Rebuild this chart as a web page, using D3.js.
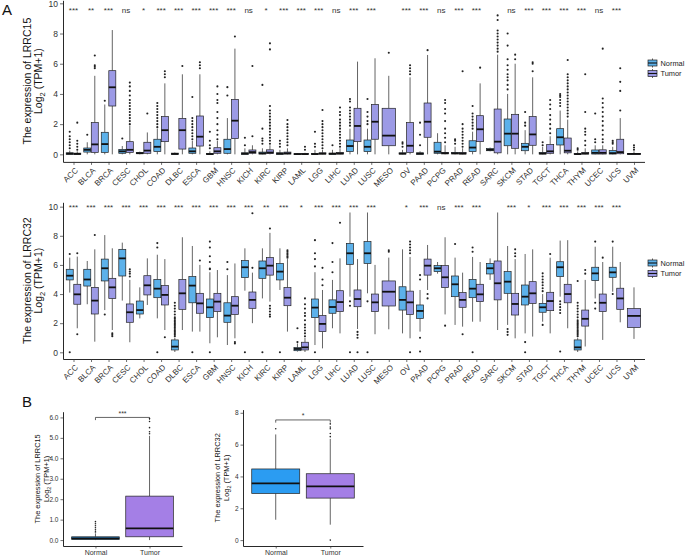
<!DOCTYPE html>
<html>
<head>
<meta charset="utf-8">
<script src="https://cdn.jsdelivr.net/npm/d3@7"></script>
<style>
  body { margin: 0; background: #fff; }
  svg { display: block; font-family: "Liberation Sans", Arial, sans-serif; }
</style>
</head>
<body>
<svg id="fig" width="685" height="557"></svg>
<script>
// ---------- data (box stats are [whiskerLow, q1, median, q3, whiskerHigh]) ----------
const cats = ['ACC','BLCA','BRCA','CESC','CHOL','COAD','DLBC','ESCA','GBM','HNSC','KICH','KIRC','KIRP',
  'LAML','LGG','LIHC','LUAD','LUSC','MESO','OV','PAAD','PCPG','PRAD','READ','SARC','SKCM','STAD','TGCT',
  'THCA','THYM','UCEC','UCS','UVM'];

const sigLRRC15 = ['***','**','***','ns','*','***','***','***','***','***','ns','*','***','***','***','ns',
  '***','***','','***','***','ns','***','***','','ns','***','***','***','***','ns','***',''];
const sigLRRC32 = ['***','***','***','***','***','***','***','***','***','***','***','**','***','*','***','***',
  '***','***','','*','***','ns','***','***','','***','*','***','***','***','***','***',''];

const lrrc15Normal = [
  [0,0,0.05,0.1,0.25],[0,0.15,0.3,0.42,0.8],[0,0.13,0.68,1.46,3.3],[0,0.07,0.2,0.33,0.55],
  [0,0.04,0.08,0.13,0.18],[0,0.18,0.5,1.0,1.7],[0,0,0.03,0.08,0.12],[0,0.07,0.2,0.42,0.9],
  [0,0,0.02,0.05,0.2],[0,0.07,0.35,1.0,2.4],[0,0,0.05,0.1,0.4],[0,0.02,0.07,0.15,0.4],
  [0,0,0.05,0.1,0.3],[0,0,0.02,0.04,0.08],[0,0,0.02,0.05,0.3],[0,0,0.04,0.08,0.3],
  [0,0.18,0.55,0.95,1.7],[0,0.18,0.5,0.95,1.7],null,[0,0.02,0.05,0.1,0.3],
  [0,0,0.05,0.1,0.2],[0,0.07,0.18,0.8,1.4],[0,0.03,0.07,0.13,0.5],[0,0.18,0.45,0.9,1.5],
  [0.2,0.24,0.3,0.38,0.45],[0,0.57,1.37,2.34,4.0],[0,0.24,0.5,0.73,1.6],[0,0.02,0.06,0.12,0.5],
  [0,0.62,1.13,1.7,2.9],[0,0,0.02,0.05,0.2],[0,0.02,0.1,0.29,0.6],[0,0.02,0.08,0.25,0.5],null];
const lrrc15NormalOut = [
  [0.4,0.6,0.8,1.0,1.2,1.5],[1.3],[3.55],[1.05],[],[1.8,2.0,2.2,2.4,2.6,2.8,3.0,3.2,3.4],[],
  [1.0,1.2,1.4,1.6,1.8,2.0,2.2,2.4,3.8],[0.4,0.6,0.9,1.5],[3.9,4.45],[0.6,1.1],[0.7,0.9,1.05,1.7,4.6],
  [0.5,0.7,0.9],[],[0.5,0.7,1.5],[0.6],[1.9,2.1,2.3,2.5,2.7,2.9,3.1,3.5,3.66],[2.0,2.2,2.5,2.8,3.66],[],
  [0.5,0.7,0.8],[0.6,1.3,2.1],[],[0.7,0.9,1.0],[1.7,1.9,2.1,2.3,2.5,2.7,3.2],[],
  [4.3,4.6,4.9,5.1,5.3,5.6,5.9,6.3,7.2,8.0],[1.9,2.1,2.8],[0.6,0.8],[3.2,3.4,3.6,3.8,3.9,4.0],[0.3,0.4],
  [0.8,1.0,2.7],[0.7,0.8,0.9],[]];

const lrrc15Tumor = [
  [0,0,0.03,0.08,0.2],[0,0.13,0.66,2.1,5.2],[0,3.2,4.44,5.54,8.23],[0,0.13,0.3,0.84,1.9],
  [0,0.07,0.25,0.8,1.45],[0,0.84,1.6,2.5,4.7],[0,0.35,1.6,2.38,5.3],[0,0.55,1.17,2.54,5.3],
  [0,0.07,0.2,0.44,0.9],[0,1.04,2.23,3.64,7.0],[0,0.07,0.15,0.29,0.6],[0,0.05,0.12,0.3,0.6],
  [0,0.02,0.07,0.15,0.4],[0,0,0.02,0.05,0.1],[0,0.02,0.05,0.1,0.3],[0,0.02,0.06,0.12,0.4],
  [0,0.84,1.88,3.05,6.14],[0,1.0,2.16,3.3,6.36],[0,0.57,1.24,3.05,5.2],[0,0.13,0.57,2.1,5.1],
  [0,1.13,2.16,3.4,6.58],[0,0.03,0.08,0.13,0.6],[0,0.02,0.06,0.12,0.4],[0,0.84,1.66,2.56,4.7],
  [0,0.1,0.84,3.0,6.6],[0,0.4,1.37,2.65,6.0],[0,0.6,1.32,2.5,5.1],[0,0.07,0.2,0.66,1.2],
  [0,0.1,0.24,1.08,2.3],[0,0.02,0.06,0.12,0.4],[0,0.02,0.1,0.3,0.6],[0,0.04,0.15,1.0,2.4],
  [0,0,0.03,0.06,0.2]];
const lrrc15TumorOut = [
  [0.3,0.5,0.7,0.9,2.1],[5.7,5.8,5.9,6.55],[],[2.0,2.2,2.4,2.6,2.8,3.0,3.2,3.4,3.6,3.9,4.2,4.5,4.75],
  [2.7],[5.1,5.3,5.5],[5.85],[5.7,5.9,6.1],[1.0,1.3,1.6,2.0,2.4,2.8,3.4,3.6,4.0,4.5],[7.8],[1.2,5.85],
  [0.7,0.9,1.1,1.3,1.5,1.7,1.9,2.1,2.3,2.5,2.7,2.9,3.2,6.95,7.35],[0.6,0.8,1.0,1.2,1.4,1.6,1.8,2.0,2.27],
  [0.3,0.5],[0.4,0.6,0.8,1.0,1.2,1.4,1.6,1.8,2.0,2.2,2.94],
  [0.5,0.7,0.9,1.1,1.3,1.5,1.7,1.9,2.1,2.3,2.6,2.8,3.1],[],[],[6.73],[5.3,5.5,5.7,5.9],[6.9],
  [0.8,1.1,1.4,1.7,2.2,2.7,3.0,3.4,3.6],[0.5,0.7,0.9,1.1,1.3,1.5,1.7,2.0,5.5],[5.74],
  [6.8,7.0,7.2,7.4,7.6,7.8,8.0,8.2,8.9,9.2],[6.3,6.6],[5.5,6.0,6.1],[1.4,1.7,2.0,2.3,2.6,3.0,3.3,3.6],
  [2.5,2.7,2.9,3.1,3.3,3.5,3.7,3.9,4.1,4.3,4.5,4.7,4.9,5.1,5.3,6.25],[0.6,0.9,1.3,1.5,1.7,2.8,5.3],
  [0.8,1.0,1.3,1.6,1.9,2.2,2.5,2.8,3.1,3.4,3.7,7.0],[2.9,4.2,4.8,5.7],[0.3,0.45,0.6]];

const lrrc32Normal = [
  [4.1,4.97,5.26,5.7,6.5],[3.3,4.55,5.0,5.7,6.27],[2.9,4.9,5.77,6.4,8.05],[3.55,5.24,6.45,7.07,7.53],
  [2.33,2.63,2.9,3.52,4.46],[2.33,3.75,4.37,5.0,6.7],[0.02,0.16,0.39,0.85,1.0],[1.42,3.4,4.58,5.2,7.3],
  [0.62,2.38,3.09,3.66,5.5],[0.5,2.06,2.52,3.4,5.3],[4.23,5.13,5.84,6.3,7.14],[3.7,5.08,5.77,6.27,7.14],
  [4.28,4.97,5.54,6.1,7.14],[0.05,0.11,0.23,0.32,0.6],[0.5,2.38,3.07,3.66,5.5],[1.65,2.68,3.11,3.6,4.97],
  [3.82,6.04,6.8,7.48,9.6],[4.05,6.1,6.8,7.6,9.6],null,[1.3,2.9,3.6,4.5,7.07],
  [1.42,2.33,2.84,3.25,4.28],[5.4,5.54,5.77,5.95,6.2],[1.88,3.82,4.67,5.24,6.5],[2.1,3.75,4.37,5.0,6.55],
  [4.97,5.38,5.77,6.1,6.45],[1.88,4.05,4.85,5.54,7.3],[1.3,3.25,3.82,4.62,6.75],[2.1,2.75,3.09,3.36,4.0],
  [3.82,5.2,5.84,6.22,7.67],[0.02,0.16,0.34,0.85,1.0],[3.7,4.92,5.42,5.84,7.25],[4.16,5.15,5.49,5.84,7.25],null];
const lrrc32NormalOut = [
  [6.75,0],[],[2.6],[],[],[7.2,7.5,0],
  [1.1,1.2,1.3,1.4,1.5,1.6,1.7,1.8,1.9,2.0,2.1,2.2,2.3,2.4,2.6,2.8,3.0,3.2,3.4],[0],
  [5.7,5.75,6.2,6.6,7.2,7.6,0],[5.7,6.2],[0],[0],[0],[0.7,1.65],[5.9,6.4,6.8,7.7,0],[5.5,6.2,7.5],
  [3.5,3.2,0],[3.5,0],[],[],[5.0,5.3,1.0,0.05],[],[7.44],[6.9,7.2,0],[],[1.6,1.4,1.2],[0.7,0],
  [4.2,4.4,4.6,4.8,5.0,5.2,5.42,1.88],[3.5,3.3,3.1,2.9,2.7,0.05],
  [1.1,1.2,1.3,1.4,1.5,1.6,1.7,1.8,1.9,2.0,2.1,2.2,2.4,2.6,2.8,3.0,3.2,3.4,4.9],[7.6,3.4,3.0],[7.6,4.0],[]];

const lrrc32Tumor = [
  [1.65,3.3,3.98,4.67,6.57],[0.73,2.63,3.55,4.46,7.07],[1.53,3.7,4.46,5.08,7.14],[0.69,2.06,2.75,3.32,4.97],
  [3.25,3.94,4.6,5.26,6.45],[1.53,3.25,3.94,4.58,6.4],[1.53,2.95,4.05,5.0,7.9],[1.42,2.68,3.36,4.05,6.0],
  [1.03,2.8,3.48,4.05,5.65],[0.96,2.6,3.2,3.82,6.1],[2.0,3.02,3.6,4.14,5.47],[3.48,5.3,5.95,6.5,8.2],
  [1.42,3.2,3.75,4.44,6.4],[0.02,0.16,0.34,0.69,1.0],[0.27,1.42,1.95,2.52,4.28],[1.3,2.8,3.45,4.23,6.45],
  [1.6,3.13,3.66,4.28,6.4],[1.24,2.8,3.43,4.0,6.0],[1.58,3.18,4.16,4.9,6.5],[0.96,2.6,3.43,4.2,6.55],
  [4.28,5.3,5.95,6.4,7.37],[2.6,4.44,5.15,5.95,7.9],[1.76,3.09,3.6,4.1,5.47],[2.1,3.48,3.98,4.67,6.2],
  [1.53,3.6,4.74,6.27,9.6],[0.96,2.56,3.32,4.05,6.4],[1.08,3.36,4.05,4.85,7.07],[1.3,2.86,3.52,4.12,6.5],
  [1.65,3.4,4.0,4.67,7.7],[0.4,1.8,2.3,2.9,4.97],[0.85,2.8,3.4,4.0,6.2],[2.06,2.95,3.7,4.4,6.2],
  [0.92,1.7,2.5,3.0,4.46]];
const lrrc32TumorOut = [
  [6.8,1.24],[8.05],[1.3,1.2,1.1],[5.2,5.4,5.55,5.7],[],[1.03],[],[6.3],[],[0.7,0.6],[5.8,9.55],
  [8.5,3.2,3.0,2.8,2.6,2.45],[6.5,6.6,6.7,6.8,6.9,7.0],[1.1,1.3,1.5,1.7,1.9,2.2,2.5,2.7,3.0,3.3,3.7],
  [4.6,5.0,5.8],[8.9],[1.4,1.2,1.0,0],[],[6.9,7.0],[6.8,7.0,7.2,7.4,7.6,0],[4.0,3.7],[1.83],[1.24],
  [],[],[6.6,6.8,7.07],[],[6.75],[],[5.4,5.65],[6.5],[],[]];

// panel B (pan-cancer pooled)
const groupsB = ['Normal','Tumor'];
const pooledLRRC15 = [[0,0.03,0.08,0.16,0.33],[0,0.16,0.57,2.15,5.1]];
const pooledLRRC15Out = [[0.4,0.5,0.6,0.7,0.8,0.9],[5.2,5.3,5.5,5.8,5.95]];
const pooledLRRC32 = [[1.28,2.93,3.57,4.47,6.64],[0.97,2.64,3.38,4.17,6.36]];
const pooledLRRC32Out = [[7.0],[6.5,6.7,7.0,7.1,7.3,0]];

const yTicksA = [0,2,4,6,8,10];

// ---------- style ----------
const colA = { Normal: '#5cb1ea', Tumor: '#9c9ae6' };
const colB = { Normal: '#2b9cf2', Tumor: '#a47fe6' };
const ink = '#222';

const svg = d3.select('#fig');

function drawBox(g, y, cx, hw, s, out, fill, pr) {
  g.append('line').attr('x1', cx).attr('x2', cx).attr('y1', y(s[0])).attr('y2', y(s[1]))
    .attr('stroke', ink).attr('stroke-width', 0.7);
  g.append('line').attr('x1', cx).attr('x2', cx).attr('y1', y(s[3])).attr('y2', y(s[4]))
    .attr('stroke', ink).attr('stroke-width', 0.7);
  g.append('rect').attr('x', cx - hw).attr('width', 2 * hw)
    .attr('y', y(s[3])).attr('height', Math.max(0.01, y(s[1]) - y(s[3])))
    .attr('fill', fill).attr('stroke', ink).attr('stroke-width', 0.7);
  g.append('line').attr('x1', cx - hw).attr('x2', cx + hw).attr('y1', y(s[2])).attr('y2', y(s[2]))
    .attr('stroke', '#111').attr('stroke-width', 1.8);
  g.selectAll(null).data(out).join('circle')
    .attr('cx', cx).attr('cy', d => y(d)).attr('r', pr).attr('fill', ink);
}

function styleAxis(a, size) {
  a.select('.domain').attr('stroke', '#111').attr('stroke-width', 0.9);
  a.selectAll('.tick line').attr('stroke', '#333').attr('stroke-width', 0.7);
  a.selectAll('.tick text').attr('fill', '#333').style('font-size', size + 'px');
}

function yTitle(g, x1, x2, yc, gene, size) {
  g.append('text').attr('transform', `translate(${x1},${yc}) rotate(-90)`)
    .attr('text-anchor', 'middle').style('font-size', size + 'px').attr('fill', '#111')
    .text('The expression of ' + gene);
  const t = g.append('text').attr('transform', `translate(${x2},${yc}) rotate(-90)`)
    .attr('text-anchor', 'middle').style('font-size', size + 'px').attr('fill', '#111');
  t.append('tspan').text('Log');
  t.append('tspan').attr('dy', size * 0.25).style('font-size', (size * 0.72) + 'px').text('2');
  t.append('tspan').attr('dy', -size * 0.25).text(' (TPM+1)');
}

// ---------- panel A ----------
function drawPanelA(cfg) {
  const g = svg.append('g');
  const x = d3.scalePoint().domain(cats).range([cfg.left, cfg.right]).padding(0.6);
  const y = d3.scaleLinear().domain(cfg.domain).range([cfg.bottom, cfg.top]);
  const step = x.step();

  cats.forEach((c, i) => {
    const cx = x(c);
    const n = cfg.normal[i], t = cfg.tumor[i];
    if (n && t) {
      drawBox(g, y, cx - step * 0.215, step * 0.2, n, cfg.normalOut[i], colA.Normal, 1.05);
      drawBox(g, y, cx + step * 0.215, step * 0.2, t, cfg.tumorOut[i], colA.Tumor, 1.05);
    } else if (t) {
      drawBox(g, y, cx, step * 0.38, t, cfg.tumorOut[i], colA.Tumor, 1.05);
    }
  });

  g.selectAll(null).data(cats).join('text')
    .attr('x', d => x(d)).attr('y', y(cfg.sigY) + 3)
    .attr('text-anchor', 'middle').style('font-size', '8px').attr('fill', '#333')
    .text((d, i) => cfg.sig[i]);

  const ya = g.append('g').attr('transform', `translate(${cfg.left},0)`)
    .call(d3.axisLeft(y).tickValues(yTicksA).tickSize(3).tickSizeOuter(0).tickPadding(2));
  styleAxis(ya, 8.5);

  const xa = g.append('g').attr('transform', `translate(0,${cfg.bottom})`)
    .call(d3.axisBottom(x).tickSize(3).tickSizeOuter(0));
  styleAxis(xa, 8);
  xa.selectAll('.tick text')
    .attr('y', 0).attr('dy', 0)
    .attr('transform', 'translate(4.5,9) rotate(-45)')
    .attr('text-anchor', 'end');

  yTitle(g, 31, 42, (cfg.top + cfg.bottom) / 2, cfg.gene, 10.5);

  // legend
  groupsB.forEach((grp, k) => {
    const ky = cfg.legendY + k * 10.5, kx = 648;
    g.append('line').attr('x1', kx + 4.5).attr('x2', kx + 4.5).attr('y1', ky - 4.5).attr('y2', ky + 4.5)
      .attr('stroke', ink).attr('stroke-width', 0.7);
    g.append('rect').attr('x', kx).attr('y', ky - 3).attr('width', 9).attr('height', 6)
      .attr('fill', colA[grp]).attr('stroke', ink).attr('stroke-width', 0.7);
    g.append('line').attr('x1', kx).attr('x2', kx + 9).attr('y1', ky).attr('y2', ky)
      .attr('stroke', '#111').attr('stroke-width', 1.1);
    g.append('text').attr('x', kx + 12.5).attr('y', ky + 2.8)
      .style('font-size', '7.4px').attr('fill', '#222').text(grp);
  });
}

drawPanelA({ left: 63, right: 644.5, top: 0.3, bottom: 161.9, domain: [-0.5, 10.2], sigY: 9.55,
  gene: 'LRRC15', sig: sigLRRC15, normal: lrrc15Normal, normalOut: lrrc15NormalOut,
  tumor: lrrc15Tumor, tumorOut: lrrc15TumorOut, legendY: 63 });
drawPanelA({ left: 63, right: 644.5, top: 202.3, bottom: 359, domain: [-0.46, 10.3], sigY: 10,
  gene: 'LRRC32', sig: sigLRRC32, normal: lrrc32Normal, normalOut: lrrc32NormalOut,
  tumor: lrrc32Tumor, tumorOut: lrrc32TumorOut, legendY: 263 });

// ---------- panel B ----------
function drawPanelB(cfg) {
  const g = svg.append('g');
  const x = d3.scalePoint().domain(groupsB).range([cfg.left, cfg.right]).padding(0.6);
  const y = d3.scaleLinear().domain(cfg.domain).range([cfg.bottom, cfg.top]);
  const hw = x.step() * 0.44;

  groupsB.forEach((grp, i) => drawBox(g, y, x(grp), hw, cfg.stats[i], cfg.out[i], colB[grp], 0.8));

  const by = y(cfg.bracket);
  g.append('path')
    .attr('d', `M${x('Normal')},${by + 2.7}V${by}H${x('Tumor')}V${by + 2.7}`)
    .attr('fill', 'none').attr('stroke', ink).attr('stroke-width', 0.7);
  g.append('text').attr('x', (x('Normal') + x('Tumor')) / 2).attr('y', by - 1.5)
    .attr('text-anchor', 'middle').style('font-size', '7px').attr('fill', '#333').text(cfg.sig);

  const ya = g.append('g').attr('transform', `translate(${cfg.left},0)`)
    .call(d3.axisLeft(y).tickValues(cfg.ticks).tickSize(2.5).tickSizeOuter(0).tickPadding(2));
  styleAxis(ya, 6.5);
  const xa = g.append('g').attr('transform', `translate(0,${cfg.bottom})`)
    .call(d3.axisBottom(x).tickSize(2.5).tickSizeOuter(0).tickPadding(1.5));
  styleAxis(xa, 7);

  yTitle(g, cfg.titleX, cfg.titleX + 9, (cfg.top + cfg.bottom) / 2, cfg.gene, 7.4);
}

drawPanelB({ left: 63, right: 182, top: 411.7, bottom: 546, domain: [-0.29, 6.28],
  ticks: [0,1,2,3,4,5,6], stats: pooledLRRC15, out: pooledLRRC15Out, bracket: 6, sig: '***',
  gene: 'LRRC15', titleX: 40 });
drawPanelB({ left: 243, right: 363, top: 409.6, bottom: 546, domain: [-0.37, 8.2],
  ticks: [0,2,4,6,8], stats: pooledLRRC32, out: pooledLRRC32Out, bracket: 7.55, sig: '*',
  gene: 'LRRC32', titleX: 220 });

// panel letters
svg.append('text').attr('x', 2).attr('y', 15).style('font-size', '15px').attr('fill', '#111').text('A');
svg.append('text').attr('x', 22).attr('y', 407).style('font-size', '15px').attr('fill', '#111').text('B');
</script>
</body>
</html>
